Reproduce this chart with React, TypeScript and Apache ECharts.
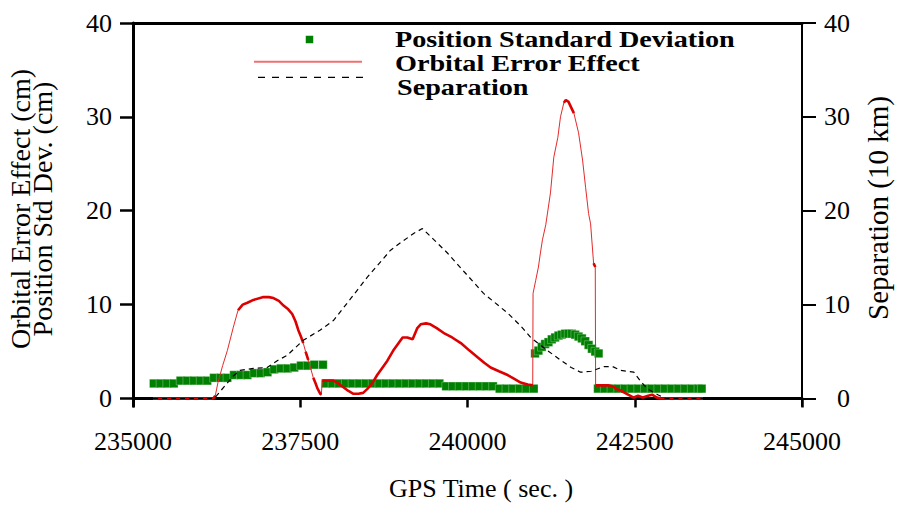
import React, { useEffect, useRef } from "react";
import * as echarts from "echarts";

const FONT = "'Liberation Serif', 'Times New Roman', serif";

// Axis ranges and tick values
const X_MIN = 235000;
const X_MAX = 245000;
const X_INTERVAL = 2500;
const Y_MIN = -0.8;
const Y_MAX = 40;
const yTicks = [0, 10, 20, 30, 40];

// Position standard deviation (cm)
const stdTime = [
  235310, 235410, 235510, 235610, 235710, 235810, 235910, 236010, 236110, 236210,
  236310, 236410, 236510, 236610, 236710, 236810, 236910, 237010, 237110, 237210,
  237310, 237410, 237510, 237610, 237710, 237840,
  237880, 237980, 238080, 238180, 238280, 238380, 238480, 238580, 238680, 238780,
  238880, 238980, 239080, 239180, 239280, 239380, 239480, 239580, 239680, 239780,
  239880, 239980, 240080, 240180, 240280, 240380, 240480, 240580, 240680, 240780,
  240880, 240990,
  241010, 241060, 241110, 241160, 241210, 241260, 241310, 241360, 241410, 241460,
  241510, 241560, 241610, 241660, 241710, 241760, 241810, 241860, 241910, 241960,
  241950, 242050, 242150, 242250, 242350, 242450, 242550, 242650, 242750, 242850,
  242950, 243050, 243150, 243250, 243350, 243450, 243500,
];
const stdValue = [
  1.6, 1.6, 1.6, 1.6, 1.9, 1.9, 1.9, 1.9, 1.9, 2.2,
  2.2, 2.2, 2.5, 2.5, 2.5, 2.7, 2.7, 2.8, 3.1, 3.2,
  3.2, 3.3, 3.5, 3.5, 3.6, 3.6,
  1.6, 1.6, 1.6, 1.6, 1.6, 1.6, 1.6, 1.6, 1.6, 1.6,
  1.6, 1.6, 1.6, 1.6, 1.6, 1.6, 1.6, 1.6, 1.3, 1.3,
  1.3, 1.3, 1.3, 1.3, 1.3, 1.3, 1.05, 1.05, 1.05, 1.05,
  1.05, 1.05,
  4.8, 5.1, 5.5, 5.8, 6.0, 6.3, 6.5, 6.7, 6.8, 6.9,
  6.9, 6.9, 6.8, 6.6, 6.4, 6.1, 5.7, 5.3, 5.0, 4.8,
  1.05, 1.05, 1.05, 1.05, 1.05, 1.05, 1.05, 1.05, 1.05, 1.05,
  1.05, 1.05, 1.05, 1.05, 1.05, 1.05, 1.05,
];

// Orbital error effect (cm)
const orbTime = [
  235300, 235500, 235700, 235900, 236100, 236200, 236230, 236270, 236340, 236410,
  236500, 236570, 236640, 236710, 236800, 236950, 237030, 237100, 237180, 237250,
  237320, 237380, 237430, 237470, 237510, 237545, 237580, 237620, 237660, 237695,
  237730, 237755, 237800, 237815, 237830, 237900, 237995, 238070, 238145, 238220,
  238295, 238370, 238440, 238500, 238550, 238600, 238650, 238720, 238800, 238890,
  238960, 239030, 239100, 239180, 239250, 239300, 239380, 239445, 239540, 239640,
  239770, 239900, 240030, 240150, 240250, 240345, 240470, 240600, 240700, 240795,
  240900, 240975, 240980, 241020, 241060, 241090, 241120, 241170, 241240, 241290,
  241350, 241390, 241440, 241470, 241510, 241590, 241660, 241720, 241765, 241810,
  241840, 241885, 241910, 241915, 242000, 242100, 242170, 242230, 242290, 242380,
  242485, 242550, 242620, 242700, 242760, 242830, 242890, 243000, 243200, 243350,
  243520,
];
const orbValue = [
  0, 0, 0, 0, 0, 0, 0.3, 1.7, 3.5, 5.1,
  7.6, 9.4, 10.0, 10.2, 10.5, 10.8, 10.8, 10.7, 10.4, 9.9,
  9.5, 9.0, 8.2, 7.3, 6.6, 5.9, 5.0, 4.1, 3.1, 2.2,
  1.6, 1.1, 0.5, 0.4, 1.9, 1.9, 1.9, 1.6, 1.2, 0.8,
  0.5, 0.5, 0.6, 1.0, 1.4, 1.9, 2.5, 3.2, 4.0, 5.1,
  5.8, 6.5, 6.5, 6.3, 7.5, 7.9, 8.0, 7.9, 7.5, 7.0,
  6.5, 5.9, 5.1, 4.4, 3.8, 3.3, 2.9, 2.5, 2.1, 1.7,
  1.5, 1.4, 11.2, 12.6, 14.0, 15.5, 16.9, 18.5, 21.9, 25.7,
  27.8, 30.0, 31.5, 31.8, 31.6, 30.4, 28.3, 25.4, 22.5, 19.7,
  18.6, 14.4, 14.0, 1.4, 1.4, 1.4, 1.3, 1.0, 0.85, 0.5,
  0.1, 0.3, 0.1, 0.3, 0.4, 0.1, 0, 0, 0, 0,
  0,
];

// Separation (10 km)
const sepTime = [
  235300, 235700, 236100, 236200, 236250, 236380, 236500, 236600, 236800, 237005,
  237150, 237305, 237545, 237800, 237995, 238250, 238500, 238850, 239000, 239200,
  239325, 239500, 239700, 239950, 240240, 240600, 240800, 240945, 241140, 241390,
  241550, 241690, 241850, 242040, 242170, 242290, 242485, 242590, 242695, 242845,
  242960, 243200, 243535,
];
const sepValue = [
  0, 0, 0, 0, 0.3, 1.4, 2.4, 3.0, 3.2, 3.3,
  4.0, 4.6, 6.2, 7.3, 8.3, 10.6, 12.9, 15.8, 16.6, 17.6,
  18.1, 16.9, 15.5, 13.5, 11.2, 9.1, 7.7, 6.5, 5.4, 4.1,
  3.3, 2.8, 2.9, 3.4, 3.4, 3.0, 2.8, 1.8, 1.0, 0.4,
  0, 0, 0,
];

const seriesNames = ["Position Standard Deviation", "Orbital Error Effect", "Separation"];

const GRID = { left: 133, right: 95, top: 23, bottom: 102 };
const WIDTH = 897;
const HEIGHT = 508;

const pairs = (t: number[], v: number[]) => t.map((x, i) => [x, v[i]]);

// Near-flat stretches of the orbital error trace are drawn with a heavier stroke.
function heavySegments(t: number[], v: number[]) {
  const pxPerSec = (WIDTH - GRID.left - GRID.right) / (X_MAX - X_MIN);
  const pxPerUnit = (HEIGHT - GRID.top - GRID.bottom) / (Y_MAX - Y_MIN);
  const out: (number | string)[][] = [];
  let prevHeavy = false;
  for (let i = 0; i < t.length - 1; i++) {
    const dx = (t[i + 1] - t[i]) * pxPerSec;
    const dy = Math.abs(v[i + 1] - v[i]) * pxPerUnit;
    const heavy = dy / Math.max(dx, 0.01) < 3.2;
    if (heavy) {
      if (!prevHeavy) out.push([t[i], v[i]]);
      out.push([t[i + 1], v[i + 1]]);
    } else if (prevHeavy) {
      out.push([t[i], "-"]);
    }
    prevHeavy = heavy;
  }
  return out;
}

export default function App() {
  const ref = useRef<HTMLDivElement>(null);

  useEffect(() => {
    if (!ref.current) return;
    const chart = echarts.init(ref.current, undefined, { renderer: "svg" });

    const tickLabel = { fontFamily: FONT, fontSize: 26, color: "#000" };
    const titleStyle = { fontFamily: FONT, fill: "#000" };
    const keyText = (text: string, x: number, y: number) => ({
      type: "text",
      x,
      y,
      scaleX: 1.2,
      style: {
        ...titleStyle,
        text,
        fontSize: 23.5,
        fontWeight: "bold",
        align: "left",
        verticalAlign: "middle",
      },
    });

    chart.setOption({
      animation: false,
      backgroundColor: "#fff",
      grid: { ...GRID, containLabel: false },
      xAxis: [
        {
          type: "value",
          position: "bottom",
          min: X_MIN,
          max: X_MAX,
          interval: X_INTERVAL,
          axisLine: { show: true, lineStyle: { color: "#000", width: 3 } },
          axisTick: { show: false },
          axisLabel: { show: false },
          splitLine: { show: false },
        },
        {
          type: "value",
          position: "bottom",
          offset: 5,
          min: X_MIN,
          max: X_MAX,
          interval: X_INTERVAL,
          axisLine: { show: false },
          axisTick: { show: true, length: 9, lineStyle: { color: "#000", width: 2.5 } },
          axisLabel: { ...tickLabel, margin: 17, formatter: (v: number) => String(v) },
          splitLine: { show: false },
        },
        {
          type: "value",
          position: "top",
          min: X_MIN,
          max: X_MAX,
          axisLine: { show: true, lineStyle: { color: "#000", width: 3 } },
          axisTick: { show: false },
          axisLabel: { show: false },
          splitLine: { show: false },
        },
      ],
      yAxis: [
        {
          type: "value",
          position: "left",
          min: Y_MIN,
          max: Y_MAX,
          axisLine: { show: true, lineStyle: { color: "#000", width: 3 } },
          axisTick: {
            show: true,
            length: 13,
            customValues: yTicks,
            lineStyle: { color: "#000", width: 2.5 },
          },
          axisLabel: { ...tickLabel, margin: 21, customValues: yTicks },
          splitLine: { show: false },
        },
        {
          type: "value",
          position: "right",
          min: Y_MIN,
          max: Y_MAX,
          axisLine: { show: true, lineStyle: { color: "#000", width: 2 } },
          axisTick: {
            show: true,
            length: 14,
            customValues: yTicks,
            lineStyle: { color: "#000", width: 2 },
          },
          axisLabel: { ...tickLabel, margin: 48, align: "right", customValues: yTicks },
          splitLine: { show: false },
        },
      ],
      series: [
        {
          name: seriesNames[0],
          type: "scatter",
          xAxisIndex: 0,
          yAxisIndex: 0,
          symbol: "rect",
          symbolSize: 8.5,
          itemStyle: {
            color: "#008000",
            borderColor: "rgba(255,255,255,0.55)",
            borderWidth: 0.5,
            opacity: 1,
          },
          data: pairs(stdTime, stdValue),
          z: 2,
        },
        {
          name: seriesNames[1],
          type: "line",
          xAxisIndex: 0,
          yAxisIndex: 0,
          symbol: "none",
          lineStyle: { color: "#e42a2a", width: 1 },
          data: pairs(orbTime, orbValue),
          z: 3,
        },
        {
          name: seriesNames[1] + " (flat)",
          type: "line",
          xAxisIndex: 0,
          yAxisIndex: 0,
          symbol: "none",
          connectNulls: false,
          lineStyle: { color: "#dd0000", width: 2.6 },
          data: heavySegments(orbTime, orbValue),
          z: 3,
        },
        {
          name: seriesNames[2],
          type: "line",
          xAxisIndex: 0,
          yAxisIndex: 1,
          symbol: "none",
          lineStyle: { color: "#000", width: 1.2, type: [5, 4] },
          data: pairs(sepTime, sepValue),
          z: 4,
        },
      ],
      graphic: [
        // key
        {
          type: "rect",
          shape: { x: 305.75, y: 35.75, width: 7.5, height: 7.5 },
          style: { fill: "#008000" },
        },
        {
          type: "line",
          shape: { x1: 254, y1: 61.7, x2: 362, y2: 61.7 },
          style: { stroke: "#ee7070", lineWidth: 2 },
        },
        {
          type: "line",
          shape: { x1: 258, y1: 77.3, x2: 363, y2: 77.3 },
          style: { stroke: "#000", lineWidth: 1.2, lineDash: [7, 7] },
        },
        keyText(seriesNames[0], 395, 39.5),
        keyText(seriesNames[1], 395, 63.5),
        keyText(seriesNames[2], 397, 87.5),
        // axis titles
        {
          type: "text",
          x: 481,
          y: 488,
          style: {
            ...titleStyle,
            text: "GPS Time ( sec. )",
            fontSize: 26,
            align: "center",
            verticalAlign: "middle",
          },
        },
        {
          type: "text",
          x: 31,
          y: 209,
          rotation: Math.PI / 2,
          style: {
            ...titleStyle,
            text: "Orbital Error Effect (cm)\nPosition Std Dev. (cm)",
            fontSize: 28,
            lineHeight: 22,
            align: "center",
            verticalAlign: "middle",
          },
        },
        {
          type: "text",
          x: 878,
          y: 208,
          rotation: Math.PI / 2,
          style: {
            ...titleStyle,
            text: "Separation (10 km)",
            fontSize: 29,
            align: "center",
            verticalAlign: "middle",
          },
        },
      ],
    });

    return () => chart.dispose();
  }, []);

  return (
    <div
      ref={ref}
      style={{ position: "fixed", left: 0, top: 0, width: WIDTH, height: HEIGHT, background: "#fff" }}
    />
  );
}
